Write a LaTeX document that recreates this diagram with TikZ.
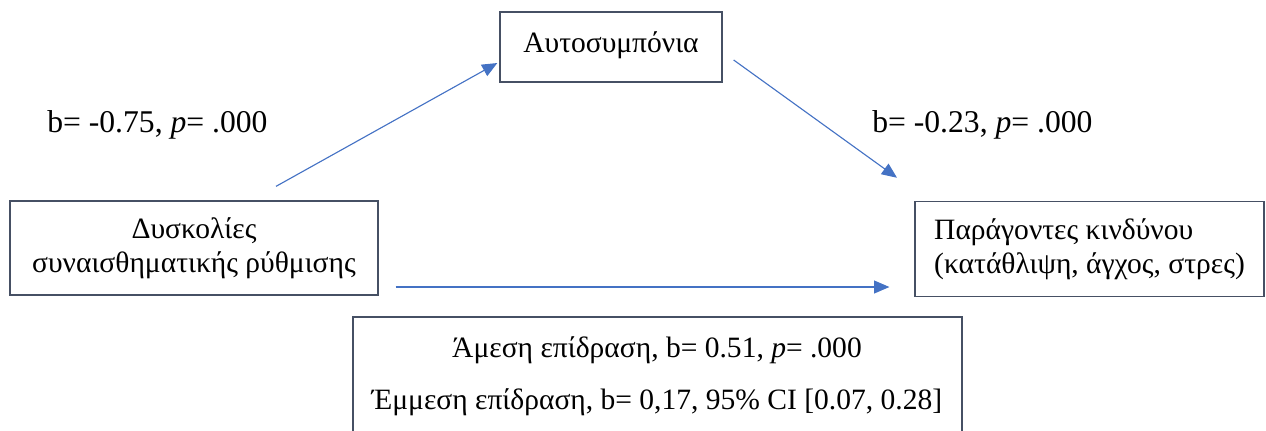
\documentclass[tikz,border=0pt]{standalone}
\usepackage{fontspec}
\setmainfont{Liberation Serif}
\usepackage{tikz}
\usetikzlibrary{arrows.meta}
\definecolor{arrowblue}{RGB}{68,114,196}
\definecolor{boxline}{RGB}{70,80,100}

\begin{document}
\begin{tikzpicture}[x=0.025cm,y=-0.025cm]
\tikzset{box/.style={rectangle,draw=boxline,line width=0.9pt,inner sep=0pt,minimum width=#1},
         arrow/.style={draw=arrowblue,line width=0.8pt,-{Triangle[length=0.38cm,width=0.32cm]}},
         txt/.style={font=\fontsize{21}{24}\selectfont,inner sep=0pt},
         coef/.style={font=\fontsize{22.5}{26}\selectfont,inner sep=0pt,anchor=west}}
\useasboundingbox (0,0) rectangle (1266,430);
% Nodes
\node [box=5.55cm, minimum height=1.75cm] (auto) at (611,47) {};
\node [txt] (autotext) at (611,45) {Αυτοσυμπόνια};
\node [box=9.2cm, minimum height=2.35cm, txt, align=center] (dys) at (194,248)
  {Δυσκολίες\\συναισθηματικής ρύθμισης};
\node [box=8.72cm, minimum height=2.38cm, txt, align=left] (risk) at (1089.5,249)
  {Παράγοντες κινδύνου\\(κατάθλιψη, άγχος, στρες)};
\node [box=15.22cm, minimum height=3.2cm] (eff) at (657.5,381) {};
\node [txt] (direct) at (657,350) {Άμεση επίδραση, b= 0.51, \textit{p}= .000};
\node [txt] (indirect) at (657,402) {Έμμεση επίδραση, b= 0,17, 95\% CI [0.07, 0.28]};
\node [coef] (pathA) at (47,125) {b= -0.75, \textit{p}= .000};
\node [coef] (pathB) at (872,125) {b= -0.23, \textit{p}= .000};
% Arrows
\draw [arrow] ([shift={(82,-14)}]dys.north) -- ([shift={(-2,16)}]auto.west);
\draw [arrow] ([shift={(11,13)}]auto.east) -- ([shift={(-192.5,-23)}]risk.north);
\draw [arrow] ([shift={(17,39)}]dys.east) -- ([shift={(-25,38)}]risk.west);
\end{tikzpicture}
\end{document}
